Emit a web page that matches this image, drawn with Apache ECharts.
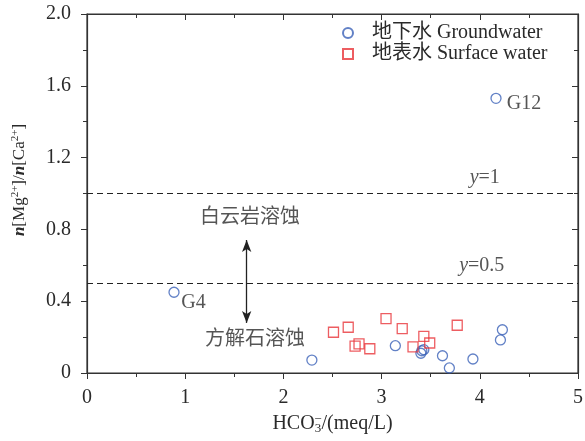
<!DOCTYPE html>
<html><head><meta charset="utf-8">
<script src="https://cdn.jsdelivr.net/npm/echarts@6/dist/echarts.min.js"></script>
<style>html,body{margin:0;padding:0;background:#fff}#c{width:585px;height:441px}</style>
</head><body><div id="c"></div>
<script>
// Data
const groundwater = [
  [2.29,0.072],[3.14,0.152],[3.40,0.110],[3.41,0.124],[3.43,0.130],
  [3.62,0.096],[3.69,0.028],[3.93,0.078],[4.21,0.184],[4.23,0.241],
  [0.886,0.450],[4.165,1.53]
];
const surface = [
  [2.51,0.227],[2.66,0.255],[2.77,0.162],[2.73,0.150],[2.88,0.135],
  [3.045,0.303],[3.21,0.247],[3.32,0.145],[3.43,0.204],[3.49,0.167],[3.77,0.266]
];
const refLines = [1, 0.5];
const arrowX = 1.626, arrowTop = 0.741, arrowBottom = 0.279;
const notes = [
  {x:1.659, y:0.863, text:'白云岩溶蚀'},
  {x:1.71, y:0.184, text:'方解石溶蚀'},
  {x:4.05, y:1.09, text:'{i|y}=1'},
  {x:4.02, y:0.60, text:'{i|y}=0.5'},
  {x:1.085, y:0.39, text:'G4'},
  {x:4.45, y:1.50, text:'G12'}
];
const xTicks = {min:0, max:5, interval:1};
const yTicks = {min:0, max:2, interval:0.4};

const FONT = "'Liberation Serif','Noto Sans CJK SC',serif";
const TXT = '#2a2a2a';
const AX = '#333';
const FS = 20;
const chart = echarts.init(document.getElementById('c'));
function axisBase(inside){
  return {
    axisLine:{show:true, onZero:false, lineStyle:{color:AX, width:1.2}},
    splitLine:{show:false},
    axisTick:{show:true, inside:inside, length:6, lineStyle:{color:AX}},
    minorTick:{show:true, splitNumber:2, length:4, lineStyle:{color:AX}}
  };
}
chart.setOption({
  animation:false,
  grid:{left:87, right:7, top:14, bottom:68, outerBoundsMode:'none', containLabel:false,
    show:true, borderColor:AX, borderWidth:1.2, backgroundColor:'transparent'},
  legend:{
    orient:'vertical', left:337, top:18, itemGap:1, itemWidth:10, itemHeight:10,
    textStyle:{fontFamily:FONT, fontSize:FS, color:TXT, padding:[0,0,0,14]},
    data:['地下水 Groundwater','地表水 Surface water']
  },
  xAxis:[
    Object.assign(axisBase(false), {type:'value', min:xTicks.min, max:xTicks.max, interval:xTicks.interval,
      name:'{a|HCO}{sub|3}{sup|−}{a|/(meq/L)}', nameLocation:'middle', nameGap:40,
      nameTextStyle:{fontFamily:FONT, color:TXT, rich:{
        a:{fontFamily:FONT, fontSize:FS, color:TXT},
        sub:{fontFamily:FONT, fontSize:13, color:TXT, verticalAlign:'bottom', padding:[9,0,0,0]},
        sup:{fontFamily:FONT, fontSize:13, color:TXT, verticalAlign:'top', padding:[0,0,9,-7]}}},
      axisLabel:{fontFamily:FONT, fontSize:FS, color:TXT, margin:15}
    }),
    Object.assign(axisBase(true), {type:'value', position:'top', min:xTicks.min, max:xTicks.max, interval:xTicks.interval,
      axisLabel:{show:true, margin:0, fontSize:1, formatter:()=>''}})
  ],
  yAxis:[
    Object.assign(axisBase(false), {type:'value', min:yTicks.min, max:yTicks.max, interval:yTicks.interval,
      name:'{i|n}{a|[Mg}{sup|2+}{a|]/}{i|n}{a|[Ca}{sup|2+}{a|]}', nameLocation:'middle', nameGap:58,
      nameTextStyle:{fontFamily:FONT, color:TXT, padding:[0,0,0,27], rich:{
        a:{fontFamily:FONT, fontSize:17, color:TXT},
        i:{fontFamily:FONT, fontSize:17, color:TXT, fontStyle:'italic', fontWeight:'bold'},
        sup:{fontFamily:FONT, fontSize:11, color:TXT, verticalAlign:'top', padding:[0,0,8,0]}}},
      axisLabel:{fontFamily:FONT, fontSize:FS, color:TXT, margin:16,
        formatter:v=> v===0 ? '0' : v.toFixed(1)}
    }),
    Object.assign(axisBase(true), {type:'value', position:'right', min:yTicks.min, max:yTicks.max, interval:yTicks.interval,
      axisLabel:{show:true, margin:0, fontSize:1, formatter:()=>''}})
  ],
  series:[
    {name:'地下水 Groundwater', type:'scatter', data:groundwater, symbol:'circle', symbolSize:10,
      itemStyle:{color:'rgba(255,255,255,0)', borderColor:'#3b62b8', borderWidth:1.3},
      z:5},
    {name:'地表水 Surface water', type:'scatter', data:surface, symbol:'rect', symbolSize:10,
      itemStyle:{color:'rgba(255,255,255,0)', borderColor:'#e8353a', borderWidth:1.3},
      z:5,
      markLine:{silent:true, symbol:'none', label:{show:false},
        lineStyle:{color:'#222', type:[6,4], width:1.1},
        data: refLines.map(v=>({yAxis:v}))}
    },
    {type:'line', xAxisIndex:1, yAxisIndex:1, data:[], markLine:{silent:true, symbol:['arrow','arrow'], symbolSize:[7,12], label:{show:false},
        lineStyle:{color:'#222', type:'solid', width:1.3},
        data:[[{coord:[arrowX, arrowTop]},{coord:[arrowX, arrowBottom]}]]}},
    {type:'scatter', xAxisIndex:1, yAxisIndex:1, symbol:'circle', symbolSize:1, silent:true,
      itemStyle:{color:'rgba(0,0,0,0)'},
      data: notes.map(n=>({value:[n.x,n.y], label:{formatter:n.text}})),
      label:{show:true, position:'inside', fontFamily:FONT, fontSize:FS, color:TXT,
        rich:{i:{fontFamily:FONT, fontSize:FS, color:TXT, fontStyle:'italic'}}}
    }
  ]
});
</script></body></html>
